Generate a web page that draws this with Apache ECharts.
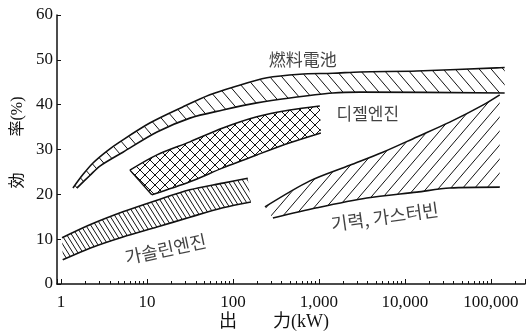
<!DOCTYPE html>
<html><head><meta charset="utf-8">
<script src="https://cdn.jsdelivr.net/npm/echarts@6/dist/echarts.min.js"></script>
<style>html,body{margin:0;padding:0;background:#fff}#c{width:527px;height:331px}</style>
</head><body><div id="c"></div>
<script>
// ---- data (x: output kW, y: efficiency %) ----
const xTickValues = [1, 10, 100, 1000, 10000, 100000];
const xTickLabels = ['1', '10', '100', '1,000', '10,000', '100,000'];
const yTickValues = [0, 10, 20, 30, 40, 50, 60];

const fuelCellUpper = [[1.38,21.4],[1.8,24.4],[2.36,27.0],[3.4,29.6],[4.85,31.7],[10.8,35.9],[26.2,39.5],[54,42.2],[100,43.9],[249,46.0],[601,46.8],[1455,47.0],[3000,47.3],[13800,47.5],[117000,48.2],[145000,48.3]];
const fuelCellLower = [[1.53,21.4],[2.17,24.2],[2.84,26.3],[5.26,29.4],[13.1,33.9],[31.6,37.0],[76.5,38.8],[190,40.4],[460,41.5],[1455,42.6],[3000,42.8],[145000,42.6]];

const dieselUpper = [[6.34,25.4],[13.1,28.8],[31.6,31.7],[76.5,34.8],[190,37.3],[460,38.8],[1027,39.7]];
const dieselLower = [[11.4,19.9],[31.6,22.8],[76.5,25.9],[190,28.8],[460,31.5],[1055,33.7]];

const gasolineUpper = [[1.03,10.3],[2.17,13.2],[5.26,16.1],[13.1,18.7],[31.6,21.0],[76.5,22.5],[149,23.6]];
const gasolineLower = [[1.05,5.4],[2.17,8.0],[5.26,10.5],[13.1,12.7],[31.6,14.9],[76.5,17.0],[162,18.3]];

const turbineUpper = [[236,17.2],[786,23.0],[2290,26.5],[5550,29.4],[13800,32.8],[33300,36.1],[80700,39.9],[127000,42.2]];
const turbineLower = [[292,14.7],[948,17.0],[3610,19.2],[13800,20.5],[33300,21.4],[127000,21.6]];

const bandNames = ['燃料電池', '디젤엔진', '가솔린엔진', '기력, 가스터빈'];
const labelAnchors = [[651,50.0],[3715,38.0],[16.5,7.8],[5850,15.0]];

// ---- hatch patterns ----
function hatch(w, h, kinds, lw) {
  const c = document.createElement('canvas');
  c.width = w; c.height = h;
  const g = c.getContext('2d');
  g.strokeStyle = '#111'; g.lineWidth = lw; g.lineCap = 'square';
  g.beginPath();
  for (let k = -1; k <= 1; k++) {
    if (kinds.indexOf('\\') >= 0) { g.moveTo(k*w, 0); g.lineTo(k*w + w, h); }
    if (kinds.indexOf('/') >= 0) { g.moveTo(k*w, h); g.lineTo(k*w + w, 0); }
  }
  g.stroke();
  return {image: c, repeat: 'repeat'};
}
const patFuel = hatch(12, 14, '\\', 1);
const patDiesel = hatch(10, 10, '\\/', 1);
const patGas = hatch(5, 8, '\\', 1);
const patTurb = hatch(12, 14, '/', 1);

function bandSeries(upper, lower, pattern, closeLeft) {
  return {
    type: 'custom',
    coordinateSystem: 'cartesian2d',
    data: [[upper[0][0], upper[0][1]]],
    silent: true,
    z: 2,
    renderItem: function (params, api) {
      const up = upper.map(p => api.coord(p));
      const lo = lower.map(p => api.coord(p));
      const poly = up.concat(lo.slice().reverse());
      const children = [
        {type: 'polygon', shape: {points: poly}, style: {fill: pattern, stroke: null}},
        {type: 'polyline', shape: {points: up, smooth: 0.3}, style: {fill: null, stroke: '#111', lineWidth: 1.6}},
        {type: 'polyline', shape: {points: lo, smooth: 0.3}, style: {fill: null, stroke: '#111', lineWidth: 1.6}}
      ];
      if (closeLeft) {
        children.push({type: 'line', shape: {x1: up[0][0], y1: up[0][1], x2: lo[0][0], y2: lo[0][1]}, style: {stroke: '#111', lineWidth: 1.4}});
      }
      return {type: 'group', children: children};
    }
  };
}

const serif = '"Liberation Serif", "Noto Sans CJK JP", serif';
const krFont = '"Noto Sans CJK KR", sans-serif';
const jpFont = '"Noto Sans CJK JP", sans-serif';

function tickLabel(v) {
  const e = Math.log10(v);
  const r = Math.round(e);
  if (Math.abs(e - r) > 1e-6) return '';
  const i = xTickValues.indexOf(Math.pow(10, r));
  return i >= 0 ? xTickLabels[i] : '';
}

const chart = echarts.init(document.getElementById('c'), null, {renderer: 'canvas'});
chart.setOption({
  animation: false,
  backgroundColor: '#fff',
  grid: {left: 57, right: 2, top: 15, bottom: 47, containLabel: false, outerBoundsMode: 'none'},
  xAxis: {
    type: 'log', logBase: 10, min: 0.9, max: 250000,
    axisLine: {lineStyle: {color: '#111', width: 1.5}},
    axisTick: {show: true, inside: true, length: 5, lineStyle: {color: '#111'}},
    minorTick: {show: true, splitNumber: 10, length: 3, lineStyle: {color: '#111'}},
    splitLine: {show: false},
    minorSplitLine: {show: false},
    axisLabel: {margin: 10, fontSize: 17, color: '#111', fontFamily: serif, formatter: tickLabel},
    name: '出　　力(kW)', nameLocation: 'middle', nameGap: 29, nameMoveOverlap: false,
    nameTextStyle: {fontSize: 18, lineHeight: 18, color: '#111', fontFamily: serif, padding: [0, 34, 0, 0]}
  },
  yAxis: {
    type: 'value', min: yTickValues[0], max: yTickValues[yTickValues.length-1], interval: 10,
    axisLine: {show: true, lineStyle: {color: '#111', width: 1.5}},
    axisTick: {show: true, inside: true, length: 4, lineStyle: {color: '#111'}},
    splitLine: {show: false},
    axisLabel: {margin: 4, fontSize: 17, color: '#111', fontFamily: serif},
    name: '効　　 率(%)', nameLocation: 'middle', nameRotate: 90, nameGap: 31, nameMoveOverlap: false,
    nameTextStyle: {fontSize: 16, color: '#111', fontFamily: serif, padding: [0, 0, 0, 14]}
  },
  series: [
    bandSeries(fuelCellUpper, fuelCellLower, patFuel, false),
    bandSeries(dieselUpper, dieselLower, patDiesel, true),
    bandSeries(gasolineUpper, gasolineLower, patGas, false),
    bandSeries(turbineUpper, turbineLower, patTurb, false),
    {
      type: 'scatter', symbolSize: 1, itemStyle: {color: 'rgba(0,0,0,0)'}, silent: true, z: 5,
      label: {show: true, position: 'inside', color: '#111', fontSize: 16, formatter: p => p.name},
      data: [
        {name: bandNames[0], value: labelAnchors[0], label: {fontFamily: jpFont, fontSize: 17}},
        {name: bandNames[1], value: labelAnchors[1], label: {fontFamily: krFont, fontSize: 17}},
        {name: bandNames[2], value: labelAnchors[2], label: {fontFamily: krFont, fontSize: 18, rotate: 12}},
        {name: bandNames[3], value: labelAnchors[3], label: {fontFamily: krFont, fontSize: 18, rotate: 8}}
      ]
    }
  ]
});
</script>
</body></html>
